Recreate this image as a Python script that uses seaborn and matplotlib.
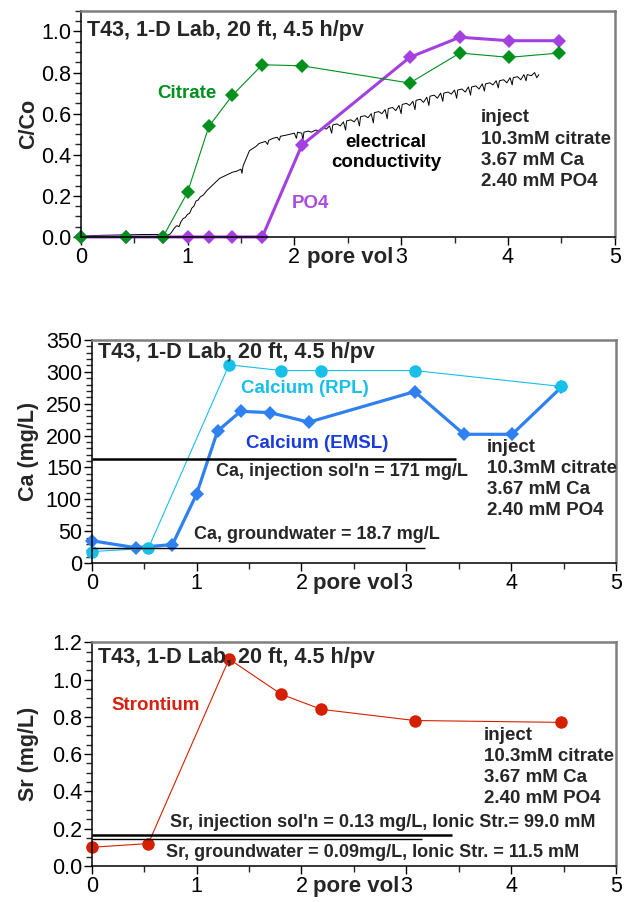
import numpy as np
import pandas as pd
import matplotlib
matplotlib.use("Agg")
import matplotlib.pyplot as plt
from matplotlib.ticker import MultipleLocator
import seaborn as sns

# ---- panel 1: C/Co ----
cit_pv = [0, 0.42, 0.77, 1.0, 1.2, 1.42, 1.70, 2.07, 3.08, 3.55, 4.01, 4.48]
cit_c = [0, 0, 0, 0.217, 0.538, 0.689, 0.838, 0.833, 0.749, 0.895, 0.874, 0.895]
po4_pv = [0, 0.42, 0.77, 1.0, 1.2, 1.42, 1.70, 2.07, 3.08, 3.55, 4.01, 4.48]
po4_c = [0, 0, 0, 0, 0, 0, 0, 0.446, 0.874, 0.972, 0.955, 0.955]
ec_pv = [0.00, 0.20, 0.40, 0.60, 0.75, 0.80, 0.84, 0.86, 0.88, 0.90, 0.92, 0.94, 0.96,
         0.98, 1.00, 1.02, 1.04, 1.06, 1.08, 1.10, 1.12, 1.15, 1.18, 1.21, 1.24, 1.27,
         1.30, 1.34, 1.38, 1.42, 1.46, 1.50, 1.51, 1.52, 1.54, 1.56, 1.58, 1.61, 1.64,
         1.67, 1.70, 1.73, 1.75, 1.76, 1.80, 1.84, 1.86, 1.87, 1.92, 1.96, 2.00, 2.02,
         2.03, 2.07, 2.08, 2.09, 2.13, 2.16, 2.20, 2.24, 2.27, 2.30, 2.33, 2.35, 2.36,
         2.40, 2.43, 2.46, 2.48, 2.49, 2.53, 2.56, 2.59, 2.61, 2.62, 2.66, 2.69, 2.72,
         2.74, 2.75, 2.79, 2.82, 2.85, 2.87, 2.88, 2.92, 2.95, 2.98, 3.00, 3.01, 3.05,
         3.08, 3.11, 3.13, 3.14, 3.18, 3.21, 3.24, 3.26, 3.27, 3.31, 3.34, 3.37, 3.39,
         3.40, 3.44, 3.47, 3.50, 3.52, 3.53, 3.57, 3.60, 3.63, 3.65, 3.66, 3.70, 3.73,
         3.76, 3.78, 3.79, 3.83, 3.86, 3.89, 3.91, 3.92, 3.96, 3.99, 4.02, 4.04, 4.05,
         4.09, 4.12, 4.15, 4.17, 4.18, 4.22, 4.25, 4.27, 4.29]
ec_c = [0.005, 0.008, 0.010, 0.012, 0.012, 0.005, 0.015, 0.030, 0.045, 0.055, 0.050, 0.075, 0.090,
        0.095, 0.110, 0.115, 0.140, 0.150, 0.175, 0.180, 0.195, 0.205, 0.225, 0.240, 0.255, 0.270,
        0.285, 0.295, 0.305, 0.315, 0.320, 0.330, 0.310, 0.345, 0.370, 0.395, 0.420, 0.430, 0.440,
        0.455, 0.460, 0.465, 0.450, 0.470, 0.480, 0.485, 0.470, 0.490, 0.495, 0.500, 0.505, 0.480,
        0.510, 0.505, 0.470, 0.510, 0.515, 0.510, 0.520, 0.515, 0.530, 0.525, 0.540, 0.505, 0.545,
        0.550, 0.540, 0.560, 0.520, 0.565, 0.570, 0.560, 0.580, 0.540, 0.585, 0.590, 0.580, 0.600,
        0.555, 0.605, 0.610, 0.600, 0.620, 0.575, 0.625, 0.630, 0.615, 0.640, 0.600, 0.645, 0.650,
        0.640, 0.660, 0.620, 0.665, 0.670, 0.655, 0.680, 0.640, 0.685, 0.690, 0.675, 0.700, 0.660,
        0.700, 0.705, 0.695, 0.715, 0.675, 0.715, 0.720, 0.705, 0.730, 0.690, 0.730, 0.735, 0.720,
        0.745, 0.710, 0.745, 0.750, 0.740, 0.760, 0.725, 0.760, 0.765, 0.750, 0.775, 0.740, 0.775,
        0.780, 0.765, 0.790, 0.760, 0.790, 0.785, 0.800, 0.775, 0.790]

# ---- panel 2: Ca ----
rpl_pv = [0, 0.54, 1.31, 1.81, 2.19, 3.08, 4.48]
rpl_ca = [18, 23, 311, 302, 302, 302, 277]
emsl_pv = [0, 0.42, 0.77, 1.0, 1.2, 1.42, 1.70, 2.07, 3.08, 3.55, 4.01, 4.48]
emsl_ca = [35, 24, 29, 108, 207, 238, 236, 221, 269, 202, 202, 276]
ca_inj_level, ca_inj_end = 163, 3.47
ca_gw_level, ca_gw_end = 23, 3.18

# ---- panel 3: Sr ----
sr_pv = [0, 0.54, 1.31, 1.81, 2.19, 3.08, 4.48]
sr_mg = [0.10, 0.12, 1.11, 0.92, 0.84, 0.78, 0.77]
sr_inj_level, sr_inj_end = 0.164, 3.44
sr_gw_level, sr_gw_end = 0.142, 3.15

title_txt = "T43, 1-D Lab, 20 ft, 4.5 h/pv"
inject_txt = "inject\n10.3mM citrate\n3.67 mM Ca\n2.40 mM PO4"

sns.set_theme(style="ticks")
plt.rcParams["font.family"] = ["Liberation Sans", "DejaVu Sans"]

fig = plt.figure(figsize=(6.29, 9.02), dpi=100)
ax1 = fig.add_axes([0.1283, 0.7373, 0.849, 0.2506])
ax2 = fig.add_axes([0.1458, 0.3758, 0.8335, 0.2473])
ax3 = fig.add_axes([0.1458, 0.0400, 0.8335, 0.2480])

GREEN = "#00901c"
PURPLE = "#a43fe0"
CYAN = "#17c0e8"
BLUE = "#2f80f0"
RED = "#d52000"

INJ_FS = 13.5
INJ_LS = 1.32

# panel 1
sns.lineplot(x=ec_pv, y=ec_c, ax=ax1, color="black", lw=0.7, sort=False, estimator=None)
sns.lineplot(x=po4_pv, y=po4_c, ax=ax1, color=PURPLE, lw=2.2, marker="D", markersize=7,
             markeredgewidth=0, sort=False, estimator=None, clip_on=False)
sns.lineplot(x=cit_pv, y=cit_c, ax=ax1, color=GREEN, lw=0.8, marker="D", markersize=7,
             markeredgewidth=0, sort=False, estimator=None, clip_on=False)
ax1.text(0.99, 0.70, "Citrate", color=GREEN, fontsize=13.5, fontweight="bold", ha="center", va="center")
ax1.text(2.15, 0.165, "PO4", color="#a94de2", fontsize=13.5, fontweight="bold", ha="center", va="center")
ax1.text(2.86, 0.41, "electrical\nconductivity", color="black", fontsize=13.5, fontweight="bold",
         ha="center", va="center", linespacing=1.25)
ax1.text(3.75, 0.425, inject_txt, fontsize=INJ_FS, fontweight="bold", ha="left", va="center", linespacing=INJ_LS)
ax1.text(0.055, 1.005, title_txt, fontsize=15.5, fontweight="bold", ha="left", va="center")
ax1.set_ylim(0, 1.1)
ax1.yaxis.set_major_locator(MultipleLocator(0.2))
ax1.yaxis.set_minor_locator(MultipleLocator(0.05))
ax1.set_ylabel("C/Co")
ax1.yaxis.set_label_coords(-0.078, 0.5)

# panel 2
sns.lineplot(x=emsl_pv, y=emsl_ca, ax=ax2, color=BLUE, lw=2.3, marker="D", markersize=7,
             markeredgewidth=0, sort=False, estimator=None, clip_on=False)
sns.lineplot(x=rpl_pv, y=rpl_ca, ax=ax2, color=CYAN, lw=0.8, marker="o", markersize=9,
             markeredgewidth=0, sort=False, estimator=None, clip_on=False)
ax2.hlines(ca_inj_level, 0, ca_inj_end, color="black", lw=1.8)
ax2.hlines(ca_gw_level, 0, ca_gw_end, color="black", lw=1.0)
ax2.text(1.19, 143, "Ca, injection sol'n = 171 mg/L", fontsize=13, fontweight="bold", ha="left", va="center")
ax2.text(0.98, 45, "Ca, groundwater = 18.7 mg/L", fontsize=13, fontweight="bold", ha="left", va="center")
ax2.text(2.03, 274, "Calcium (RPL)", color=CYAN, fontsize=13.5, fontweight="bold", ha="center", va="center")
ax2.text(2.15, 187, "Calcium (EMSL)", color="#1a3cdc", fontsize=13.5, fontweight="bold", ha="center", va="center")
ax2.text(3.77, 132, inject_txt, fontsize=INJ_FS, fontweight="bold", ha="left", va="center", linespacing=INJ_LS)
ax2.text(0.06, 331, title_txt, fontsize=15.5, fontweight="bold", ha="left", va="center")
ax2.set_ylim(0, 350)
ax2.yaxis.set_major_locator(MultipleLocator(50))
ax2.yaxis.set_minor_locator(MultipleLocator(10))
ax2.set_ylabel("Ca (mg/L)")
ax2.yaxis.set_label_coords(-0.100, 0.5)

# panel 3
sns.lineplot(x=sr_pv, y=sr_mg, ax=ax3, color=RED, lw=0.8, marker="o", markersize=9,
             markeredgewidth=0, sort=False, estimator=None, clip_on=False)
ax3.hlines(sr_inj_level, 0, sr_inj_end, color="black", lw=1.8)
ax3.hlines(sr_gw_level, 0, sr_gw_end, color="black", lw=1.0)
ax3.text(0.75, 0.235, "Sr, injection sol'n = 0.13 mg/L, Ionic Str.= 99.0 mM", fontsize=13,
         fontweight="bold", ha="left", va="center")
ax3.text(0.71, 0.071, "Sr, groundwater = 0.09mg/L, Ionic Str. = 11.5 mM", fontsize=13,
         fontweight="bold", ha="left", va="center")
ax3.text(0.61, 0.86, "Strontium", color="#d82010", fontsize=13.5, fontweight="bold", ha="center", va="center")
ax3.text(3.74, 0.53, inject_txt, fontsize=INJ_FS, fontweight="bold", ha="left", va="center", linespacing=INJ_LS)
ax3.text(0.06, 1.12, title_txt, fontsize=15.5, fontweight="bold", ha="left", va="center")
ax3.set_ylim(0, 1.2)
ax3.yaxis.set_major_locator(MultipleLocator(0.2))
ax3.yaxis.set_minor_locator(MultipleLocator(0.05))
ax3.set_ylabel("Sr (mg/L)")
ax3.yaxis.set_label_coords(-0.100, 0.5)

for ax in (ax1, ax2, ax3):
    ax.set_xlim(0, 5)
    ax.xaxis.set_major_locator(MultipleLocator(1))
    ax.xaxis.set_minor_locator(MultipleLocator(0.5))
    ax.set_xlabel("")
    ax.yaxis.label.set_fontsize(15.5)
    ax.yaxis.label.set_fontweight("bold")
    ax.tick_params(axis="both", which="major", labelsize=15.5, colors="black")
    ax.tick_params(axis="x", which="major", length=6, width=1.0, pad=1.5)
    ax.tick_params(axis="x", which="minor", length=4, width=1.0)
    ax.tick_params(axis="y", which="major", length=6, width=1.0, pad=1)
    ax.tick_params(axis="y", which="minor", length=4, width=1.0)
    for s in ("left", "bottom"):
        ax.spines[s].set_color("black")
        ax.spines[s].set_linewidth(1.1)
    for s in ("top", "right"):
        ax.spines[s].set_visible(True)
        ax.spines[s].set_color("#7f7f7f")
        ax.spines[s].set_linewidth(1.8)
    ax.annotate("pore vol", xy=(2.52, 0), xycoords=("data", "axes fraction"),
                xytext=(0, -7.5), textcoords="offset points", ha="center", va="top",
                fontsize=16, fontweight="bold")

fig.savefig("out.png", dpi=100)
